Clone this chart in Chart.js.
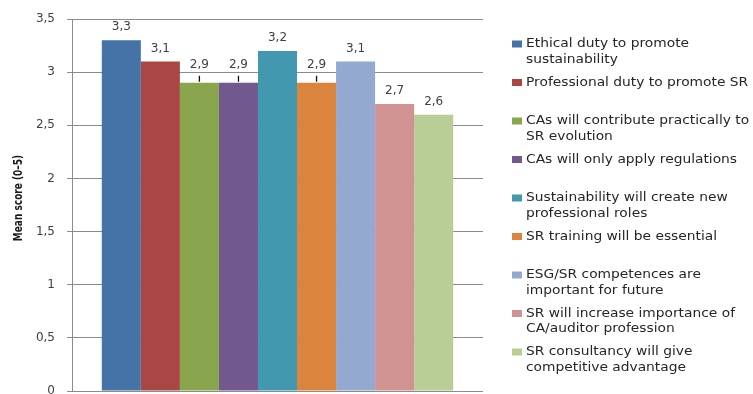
<!DOCTYPE html>
<html>
<head>
<meta charset="utf-8">
<script src="https://cdn.jsdelivr.net/npm/chart.js@4.4.1/dist/chart.umd.min.js"></script>
<style>
  html, body { margin: 0; padding: 0; background: #fff; }
</style>
</head>
<body>
<canvas id="scores" width="753" height="394"></canvas>
<script>
// legend text, already split where it wraps
const seriesNames = [
    ['Ethical duty to promote', 'sustainability'],
    ['Professional duty to promote SR'],
    ['CAs will contribute practically to', 'SR evolution'],
    ['CAs will only apply regulations'],
    ['Sustainability will create new', 'professional roles'],
    ['SR training will be essential'],
    ['ESG/SR competences are', 'important for future'],
    ['SR will increase importance of', 'CA/auditor profession'],
    ['SR consultancy will give', 'competitive advantage']
]
const meanScores = [3.3, 3.1, 2.9, 2.9, 3.2, 2.9, 3.1, 2.7, 2.6]
const seriesColors = ['#4572a7', '#aa4643', '#89a54e', '#71588f', '#4198af',
                      '#db843d', '#93a9cf', '#d19392', '#b9cd96']
const categories = ['']
const yTitle = 'Mean score (0–5)'

const textFont = '"DejaVu Sans", Verdana, sans-serif'

function comma(v) {
    return String(v).replace('.', ',')
}

// value above each bar; if it would sit on a gridline, lift it and draw a leader
const valueLabels = {
    id: 'valueLabels',
    afterDatasetsDraw(chart) {
        const ctx = chart.ctx
        const yScale = chart.scales.y
        const gridYs = yScale.ticks.map(t => yScale.getPixelForValue(t.value))
        ctx.save()
        ctx.font = '12px ' + textFont
        ctx.fillStyle = '#404040'
        ctx.textAlign = 'center'
        ctx.textBaseline = 'middle'
        chart.data.datasets.forEach((ds, i) => {
            const bar = chart.getDatasetMeta(i).data[0]
            let ty = bar.y - 13
            const hit = gridYs.find(g => Math.abs(g - ty) < 7)
            if (hit !== undefined) {
                ty = hit - 7
                ctx.strokeStyle = '#111'
                ctx.lineWidth = 1.3
                ctx.beginPath()
                ctx.moveTo(bar.x, bar.y - 1)
                ctx.lineTo(bar.x, bar.y - 7)
                ctx.stroke()
            }
            ctx.fillText(comma(ds.data[0]), bar.x, ty)
        })
        ctx.restore()
    }
}

// legend on the right (one fixed slot per series) and the wide axis title
const sideText = {
    id: 'sideText',
    afterDraw(chart) {
        const ctx = chart.ctx
        const area = chart.chartArea
        const x0 = area.right + 29
        const y0 = area.top + 25
        ctx.save()
        ctx.font = '12px ' + textFont
        ctx.textBaseline = 'middle'
        ctx.textAlign = 'left'
        chart.data.datasets.forEach((ds, i) => {
            const top = y0 + i * 38.5
            ctx.fillStyle = ds.backgroundColor
            ctx.fillRect(x0, top - 3.5, 10, 7)
            ctx.fillStyle = '#262626'
            seriesNames[i].forEach((line, k) => {
                ctx.save()
                ctx.translate(x0 + 14, top + k * 15.5)
                ctx.scale(1.15, 1)
                ctx.fillText(line, 0, 0)
                ctx.restore()
            })
        })

        ctx.translate(19, (area.top + area.bottom) / 2 - 7)
        ctx.scale(1.25, 1)
        ctx.rotate(-Math.PI / 2)
        ctx.font = 'bold 10px "DejaVu Sans Condensed", "DejaVu Sans", sans-serif'
        ctx.fillStyle = '#1a1a1a'
        ctx.textAlign = 'center'
        ctx.fillText(yTitle, 0, 0)
        ctx.restore()
    }
}

let ctx = document.getElementById('scores').getContext('2d')

let scoreChart = new Chart(ctx, {
    type: 'bar',
    data: {
        labels: categories,
        datasets: seriesNames.map((name, i) => ({
            label: name.join(' '),
            data: [meanScores[i]],
            backgroundColor: seriesColors[i],
            borderWidth: 0,
            categoryPercentage: 0.855,
            barPercentage: 1
        }))
    },
    options: {
        responsive: false,
        animation: false,
        layout: {
            padding: { top: 19, right: 270, bottom: 3, left: 0 }
        },
        plugins: {
            legend: { display: false },
            tooltip: { enabled: false }
        },
        scales: {
            x: { display: false },
            y: {
                min: 0,
                max: 3.5,
                ticks: {
                    stepSize: 0.5,
                    padding: 12,
                    color: '#404040',
                    font: { family: textFont, size: 12 },
                    callback: v => comma(v)
                },
                grid: { color: '#8c8c8c', tickColor: '#8c8c8c', tickLength: 5 },
                border: { color: '#8c8c8c' },
                afterFit(scale) {
                    scale.width = 72
                    // tick padding is only wanted sideways
                    scale.paddingTop = 0
                    scale.paddingBottom = 0
                }
            }
        }
    },
    plugins: [valueLabels, sideText]
})
</script>
</body>
</html>
